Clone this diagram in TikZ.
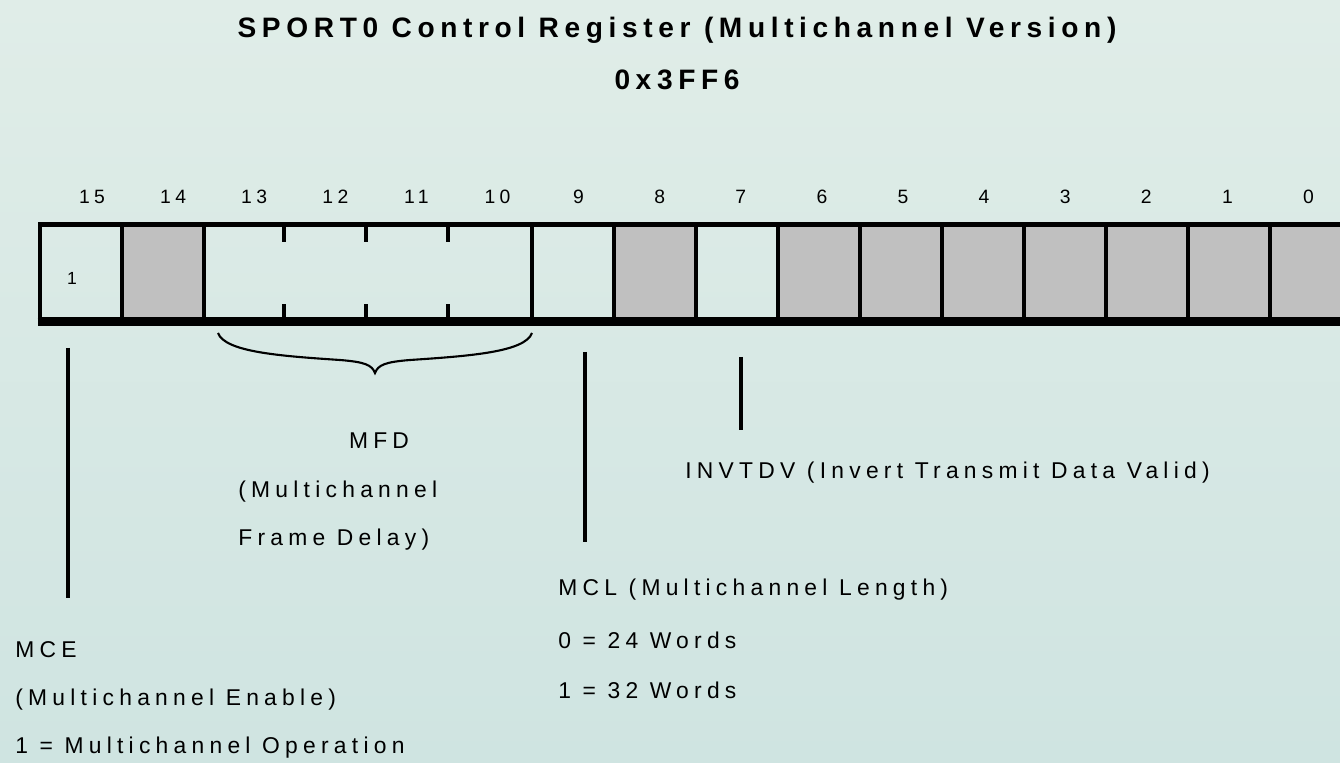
\documentclass[tikz,border=0pt]{standalone}
\usepackage{fontspec}
\setmainfont{Liberation Sans}
\newfontfamily\spaced[LetterSpace=23]{Liberation Sans}
\newfontfamily\spacedtitle[LetterSpace=20]{Liberation Sans}
\usetikzlibrary{calc,positioning}
\definecolor{bgtop}{RGB}{224,237,232}
\definecolor{bgbot}{RGB}{207,228,225}
\definecolor{resv}{RGB}{192,192,192}
\tikzset{
  bitcell/.style={
    draw=black,
    line width=2.8pt,
    minimum width=1.64cm,
    minimum height=1.9cm,
    inner sep=0pt
  },
  bitnum/.style={
    font=\spaced\fontsize{11}{13}\selectfont,
    inner sep=0pt
  },
  note/.style={
    font=\spaced\fontsize{13}{15}\selectfont,
    inner sep=0pt,
    anchor=west
  },
  lead/.style={
    black,
    line width=2.2pt
  }
}

\begin{document}
\begin{tikzpicture}[x=0.02cm,y=-0.02cm]
    % 背景
    \shade[top color=bgtop,bottom color=bgbot] (0,0) rectangle (1340,763);
    \useasboundingbox (0,0) rectangle (1340,763);

    % タイトル
    \node[font=\spacedtitle\bfseries\fontsize{16}{19}\selectfont] (title) at (677,30)
        {SPORT0 Control Register (Multichannel Version)};
    \node[font=\spacedtitle\bfseries\fontsize{16}{19}\selectfont] (addr) at (677,80) {0x3FF6};

    % レジスタ
    \foreach \b/\f in {15/none,14/resv,9/none,8/resv,7/none,6/resv,5/resv,4/resv,3/resv,2/resv,1/resv,0/resv}
        \node[bitcell,fill=\f] (b\b) at ({81+(15-\b)*82},272) {};
    \node[bitcell,minimum width=6.56cm] (mfd) at (368,272) {};
    \foreach \k in {1,2,3} {
        \draw[lead] ($(mfd.north west)+(\k*82,0)$) -- ++(0,20);
        \draw[lead] ($(mfd.south west)+(\k*82,0)$) -- ++(0,-18);
    }
    \draw[black,line width=4.6pt] (b15.south west) -- (b0.south east);
    \node[font=\fontsize{10}{12}\selectfont] (v15) at (72,278) {1};

    % ビット番号
    \foreach \b in {0,...,15}
        \node[bitnum] (n\b) at ({92+(15-\b)*81.1},197) {\b};

    % 中括弧
    \coordinate (brl) at (218,333);
    \coordinate (brr) at (532,333);
    \coordinate (brt) at (375,373);
    \draw[black,line width=1.2pt] (brl) .. controls (225,352) and (280,356) .. (340,360)
        .. controls (365,362) and (372,365) .. (brt)
        .. controls (378,365) and (385,362) .. (410,360)
        .. controls (470,356) and (525,352) .. (brr);

    % 引出線
    \coordinate (mce a) at (68,348);
    \coordinate (mce b) at (68,598);
    \coordinate (mcl a) at (585,352);
    \coordinate (mcl b) at (585,542);
    \coordinate (inv a) at (741,357);
    \coordinate (inv b) at (741,430);
    \draw[lead] (mce a) -- (mce b);
    \draw[lead] (mcl a) -- (mcl b);
    \draw[lead] (inv a) -- (inv b);

    % 注釈
    \node[note,anchor=center] (mfdname) at (379,441) {MFD};
    \node[note] (mfdl1) at (238,492) {(Multichannel};
    \node[note] (mfdl2) at (238,540) {Frame Delay)};
    \node[note] (inv) at (685,473) {INVTDV (Invert Transmit Data Valid)};
    \node[note] (mcl) at (558,590) {MCL (Multichannel Length)};
    \node[note] (mcl0) at (558,640) {0 = 24 Words};
    \node[note] (mcl1) at (558,690) {1 = 32 Words};
    \node[note] (mce) at (15,650) {MCE};
    \node[note] (mce1) at (15,700) {(Multichannel Enable)};
    \node[note] (mce2) at (15,748) {1 = Multichannel Operation};
\end{tikzpicture}
\end{document}
